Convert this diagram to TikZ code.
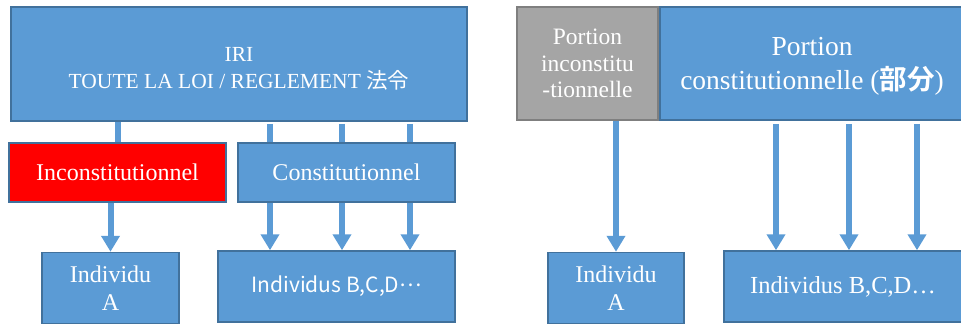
\documentclass[tikz,border=0pt]{standalone}
\usepackage{fontspec}
\setmainfont{Liberation Serif}
\newfontfamily\cjk{Noto Sans CJK JP}[BoldFont={Noto Sans CJK JP Bold}]
\usetikzlibrary{arrows.meta}
\definecolor{boxblue}{HTML}{5B9BD5}
\definecolor{boxedge}{HTML}{41719C}
\definecolor{greyfill}{HTML}{A5A5A5}
\definecolor{greyedge}{HTML}{7F7F7F}
\tikzset{
  box/.style={draw=boxedge, fill=boxblue, line width=1.5pt, text=white,
    align=center, inner sep=0pt},
  link/.style={boxblue, line width=6pt},
  arr/.style={link, -{Triangle[width=18pt,length=16pt]}},
}
\begin{document}
\begin{tikzpicture}[x=1pt,y=-1pt]
      \useasboundingbox (0,0) rectangle (961,324);
      % left: the whole law
      \node[box, minimum width=456pt, minimum height=114pt,
        font=\fontsize{21.5}{27}\selectfont] (iri) at (239,64)
        {\rule{0pt}{23pt}IRI\\TOUTE LA LOI / REGLEMENT {\cjk 法令}};
      \node[box, fill=red, minimum width=217pt, minimum height=59pt,
        font=\fontsize{24}{27}\selectfont] (incon) at (117.5,172.5) {Inconstitutionnel};
      \node[box, minimum width=217pt, minimum height=59pt,
        font=\fontsize{24}{27}\selectfont] (con) at (346.5,172.5) {Constitutionnel};
      \node[box, minimum width=137pt, minimum height=71pt,
        font=\fontsize{24}{27.7}\selectfont] (indA) at (110.5,288) {Individu\\A};
      \node[box, minimum width=237pt, minimum height=71pt,
        font=\cjk\fontsize{21}{25}\selectfont] (indB) at (336.5,286.5)
        {Individus B,C,D\raisebox{.3em}{…}};
      % right: part of the law
      \node[box, draw=greyedge, fill=greyfill, minimum width=141pt, minimum height=113pt,
        font=\fontsize{23.5}{26.7}\selectfont] (pinc) at (587.5,63.5)
        {Portion\\inconstitu\\-tionnelle};
      \node[box, minimum width=304pt, minimum height=113pt,
        font=\fontsize{27.5}{34}\selectfont] (pcon) at (812,63.5)
        {\rule{0pt}{24pt}Portion\\constitutionnelle ({\cjk\bfseries 部分})};
      \node[box, minimum width=136pt, minimum height=71pt,
        font=\fontsize{24}{27.7}\selectfont] (indA2) at (616,288) {Individu\\A};
      \node[box, minimum width=238pt, minimum height=71pt,
        font=\fontsize{24.5}{27}\selectfont] (indB2) at (843,286.5) {Individus B,C,D…};
      \begin{scope}
        \draw[link] (iri.south -| incon.north) -- (incon.north);
        \draw[arr] (incon.south -| indA.north) -- (indA.north);
        \foreach \x in {270,342,410} {
          \draw[link] (\x,0 |- iri.south) ++(0,2) -- (\x,0 |- con.north);
          \draw[arr] (\x,0 |- con.south) -- (\x,0 |- indB.north);
        }
        \draw[arr] (pinc.south -| indA2.north) -- (indA2.north);
        \foreach \x in {776,849,917}
          \draw[arr] (\x,0 |- pcon.south) ++(0,3) -- (\x,0 |- indB2.north);
      \end{scope}
\end{tikzpicture}
\end{document}
